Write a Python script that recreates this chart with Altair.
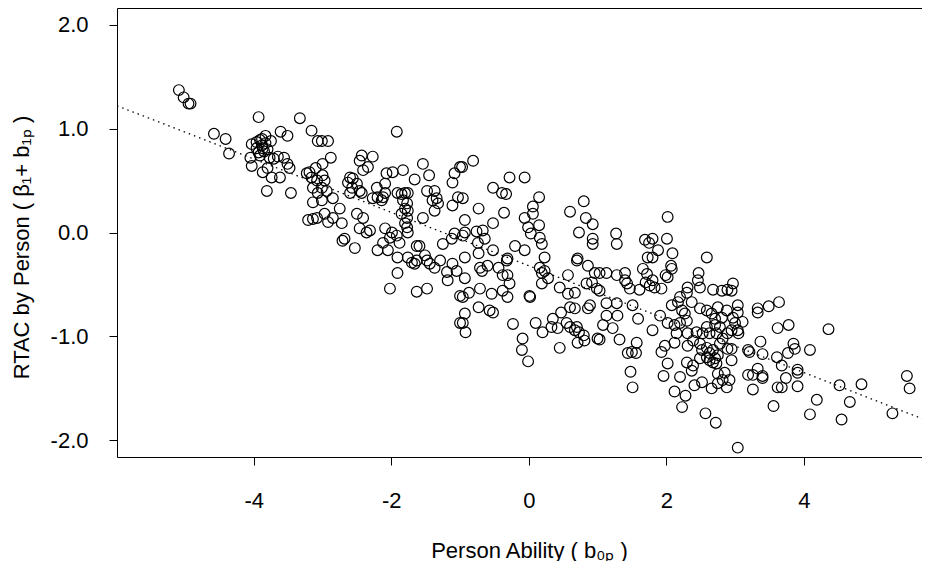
import altair as alt
import pandas as pd

# (person ability b0p, RTAC by person), grouped by x band
group_a = [(-5.09,1.37),(-5.02,1.30),(-4.95,1.24),(-4.92,1.24),(-4.58,0.95),(-4.41,0.90),(-4.36,0.76),
           (-3.93,1.11),(-3.61,0.97),(-3.51,0.93),(-4.03,0.85),(-3.96,0.87),(-3.91,0.89),(-3.83,0.93),
           (-3.83,0.86),(-3.88,0.84),(-3.96,0.81),(-3.87,0.81),(-3.91,0.74),(-4.03,0.64),(-3.77,0.72),
           (-3.71,0.71),(-3.65,0.73),(-3.56,0.72),(-3.51,0.66),(-3.48,0.62),(-3.80,0.62),(-3.87,0.58),
           (-3.74,0.53),(-3.62,0.53),(-3.81,0.40),(-3.46,0.38),(-3.88,0.90),(-3.85,0.78),(-3.93,0.77),
           (-3.80,0.80),(-3.75,0.88),(-4.05,0.72)]
group_b = [(-3.33,1.10),(-3.16,0.98),(-3.07,0.88),(-3.01,0.88),(-2.92,0.88),(-2.88,0.72),(-3.00,0.66),
           (-3.23,0.57),(-3.19,0.58),(-3.10,0.62),(-3.16,0.53),(-3.08,0.50),(-3.14,0.43),(-3.07,0.38),
           (-3.00,0.55),(-2.97,0.50),(-3.01,0.43),(-2.94,0.40),(-3.01,0.31),(-2.85,0.33),(-3.14,0.29),
           (-3.21,0.12),(-3.14,0.13),(-3.08,0.14),(-2.75,0.23),(-2.97,0.18),(-2.85,0.14),(-2.92,0.10),
           (-2.72,0.09),(-2.60,0.53),(-2.56,0.52),(-2.63,0.48),(-2.57,0.43),(-2.50,0.47),(-2.46,0.40),
           (-2.60,0.38),(-2.43,0.38),(-2.50,0.18),(-2.41,0.14),(-2.68,-0.06),(-2.71,-0.08),(-2.53,-0.15)]
group_c = [(-2.43,0.74),(-2.27,0.73),(-2.46,0.69),(-2.34,0.63),(-2.41,0.60),(-1.92,0.97),(-2.07,0.57),
           (-1.98,0.58),(-1.83,0.60),(-1.66,0.51),(-1.54,0.66),(-2.21,0.43),(-2.09,0.47),(-2.09,0.38),
           (-2.27,0.33),(-2.20,0.34),(-2.14,0.31),(-2.12,0.34),(-1.85,0.37),(-1.80,0.38),(-1.76,0.38),
           (-1.83,0.31),(-1.77,0.28),(-1.80,0.23),(-1.76,0.21),(-1.85,0.18),(-1.77,0.14),(-1.91,0.38),
           (-2.46,0.04),(-2.31,0.02),(-2.36,0.00),(-2.09,0.04),(-1.99,0.00),(-1.92,-0.03),(-2.02,-0.05),
           (-2.12,-0.10),(-2.20,-0.17),(-2.05,-0.17),(-1.88,-0.10),(-1.76,0.00),(-1.77,0.05),(-1.80,0.09),
           (-1.59,-0.13),(-1.63,-0.13),(-1.91,-0.24),(-1.76,-0.24),(-1.70,-0.29),(-1.66,-0.30),(-1.63,-0.27),
           (-1.91,-0.39),(-2.02,-0.54),(-1.63,-0.57),(-1.54,0.14)]
group_d = [(-1.45,0.55),(-1.08,0.57),(-1.11,0.48),(-1.00,0.63),(-0.81,0.69),(-0.97,0.63),(-1.48,0.40),
           (-1.37,0.40),(-1.34,0.33),(-1.40,0.31),(-1.32,0.28),(-1.37,0.21),(-1.11,0.26),(-1.03,0.34),
           (-1.51,-0.22),(-1.48,-0.27),(-1.44,-0.30),(-1.37,-0.34),(-1.29,-0.27),(-1.19,-0.38),(-1.18,-0.46),
           (-1.11,-0.30),(-1.05,-0.37),(-1.25,-0.11),(-1.12,-0.06),(-1.08,-0.01),(-1.48,-0.54),(-1.00,-0.61),
           (-1.00,-0.87),(-0.96,0.33),(-0.73,0.23),(-0.52,0.43),(-0.52,0.09),(-0.93,0.12),(-0.93,0.00),
           (-0.76,0.01),(-0.67,0.02),(-0.64,-0.06),(-0.74,-0.10),(-0.96,-0.03),(-0.52,-0.17),(-0.73,-0.20),
           (-0.93,-0.24),(-0.93,-0.44),(-0.71,-0.34),(-0.60,-0.32),(-0.68,-0.37),(-0.87,-0.58),(-0.96,-0.62),
           (-0.73,-0.72),(-0.57,-0.75),(-0.52,-0.77),(-0.93,-0.78),(-0.96,-0.87),(-0.92,-0.96),(-0.71,-0.54),
           (-0.54,-0.59)]
group_e = [(-0.28,0.53),(-0.06,0.53),(-0.39,0.38),(-0.33,0.37),(0.15,0.34),(0.06,0.25),(0.06,0.18),
           (-0.36,0.19),(-0.06,0.14),(-0.01,0.05),(0.15,0.07),(0.03,-0.01),(0.16,-0.05),(0.19,-0.11),
           (-0.20,-0.13),(-0.06,-0.17),(-0.31,-0.25),(0.23,-0.24),(-0.44,-0.34),(-0.32,-0.27),(-0.38,-0.41),
           (-0.31,-0.41),(-0.28,-0.49),(-0.38,-0.56),(-0.31,-0.62),(0.01,-0.61),(-0.23,-0.88),(-0.09,-1.02),
           (-0.10,-1.13),(-0.01,-1.24),(0.10,-0.87),(0.20,-0.96),(0.33,-0.91),(0.35,-0.83),(0.42,-0.92),
           (0.47,-0.77),(0.45,-1.11),(0.16,-0.34),(0.23,-0.37),(0.19,-0.39),(0.28,-0.44),(0.19,-0.49),
           (0.45,-0.53),(0.02,-0.62)]
group_f = [(0.60,0.20),(0.80,0.30),(0.83,0.14),(0.93,0.08),(0.73,0.00),(0.93,-0.06),(0.93,-0.11),
           (0.71,-0.25),(0.55,-0.87),(0.60,-0.91),(0.67,-0.94),(0.70,-0.91),(0.73,-0.96),(0.80,-0.99),
           (0.71,-1.06),(0.81,-1.04),(1.00,-1.02),(0.60,-0.72),(0.67,-0.73),(0.89,-0.70),(0.86,-0.73),
           (0.57,-0.41),(0.57,-0.59),(0.67,-0.58),(0.84,-0.49),(0.92,-0.48),(0.99,-0.54),(0.96,-0.39),
           (0.86,-0.32),(0.70,-0.27),(1.27,-0.01),(1.28,-0.11),(1.13,-0.39),(1.28,-0.41),(1.03,-0.39),
           (1.40,-0.39),(1.40,-0.46),(1.43,-0.49),(1.47,-0.54),(1.03,-0.56),(1.13,-0.68),(1.28,-0.68),
           (1.51,-0.70),(1.13,-0.80),(1.29,-0.80),(1.08,-0.89),(1.22,-0.92),(1.32,-1.03),(1.03,-1.03),
           (1.57,-1.06),(1.59,-0.83),(1.50,-1.15),(1.44,-1.16),(1.56,-1.16),(1.48,-1.34),(1.51,-1.49)]
group_g = [(2.02,0.15),(1.69,-0.07),(1.80,-0.06),(1.75,-0.10),(2.01,-0.06),(1.88,-0.17),(2.09,-0.20),
           (1.73,-0.24),(1.80,-0.24),(2.07,-0.32),(2.08,-0.35),(1.66,-0.35),(1.99,-0.41),(2.02,-0.43),
           (1.72,-0.40),(2.47,-0.39),(1.61,-0.55),(1.70,-0.48),(1.76,-0.51),(1.80,-0.46),(1.83,-0.53),
           (1.93,-0.54),(2.20,-0.62),(2.30,-0.58),(2.31,-0.53),(2.46,-0.46),(2.49,-0.53),(1.80,-0.94),
           (1.91,-0.80),(2.02,-0.87),(2.12,-0.89),(2.20,-0.87),(2.15,-0.97),(2.12,-1.06),(1.98,-1.09),
           (1.93,-1.15),(2.02,-1.26),(1.96,-1.38),(2.20,-1.39),(2.12,-1.53),(2.28,-1.57),(2.23,-1.68),
           (2.41,-1.47),(2.30,-1.25),(2.39,-1.28),(2.37,-1.33),(2.49,-1.21),(2.31,-0.97),(2.31,-1.09),
           (2.39,-1.04),(2.44,-0.96),(2.49,-1.07),(2.27,-0.78),(2.30,-0.85),(2.49,-0.73),(2.08,-0.70),
           (2.17,-0.67),(2.37,-0.67),(2.23,-0.75)]
group_h = [(2.59,-0.24),(2.68,-0.55),(2.81,-0.56),(2.89,-0.55),(2.57,-1.74),(2.72,-1.83),(2.52,-1.44),
           (2.66,-1.50),(2.75,-1.45),(2.82,-1.42),(2.88,-1.49),(2.59,-1.20),(2.71,-1.21),(2.75,-1.36),
           (2.85,-1.35),(2.73,-1.26),(2.52,-1.13),(2.59,-1.11),(2.63,-1.16),(2.68,-1.13),(2.75,-1.18),
           (2.63,-1.23),(2.68,-1.25),(2.59,-0.75),(2.66,-0.78),(2.71,-0.83),(2.71,-0.89),(2.59,-0.91),
           (2.53,-0.97),(2.63,-0.97),(2.73,-0.97),(2.78,-0.91),(2.78,-1.07),(2.82,-1.02),(2.89,-0.97),
           (2.89,-1.12),(2.88,-0.75),(2.75,-0.72),(2.81,-0.82),(2.97,-0.49),(2.95,-0.56),(3.04,-0.70),
           (3.04,-0.77),(2.97,-0.82),(3.11,-0.86),(3.00,-0.87),(2.95,-0.94),(3.04,-0.94),(3.05,-0.97),
           (2.95,-1.12),(2.95,-1.23),(3.19,-1.13),(3.21,-1.15),(3.33,-0.73),(3.33,-0.77),(3.49,-0.71),
           (3.37,-1.05),(3.40,-1.17),(3.33,-1.31),(3.19,-1.37),(3.26,-1.37),(3.40,-1.38),(3.40,-1.40),
           (3.26,-1.51),(3.04,-2.07),(2.92,-1.42)]
group_i = [(3.64,-0.67),(3.62,-0.92),(3.78,-0.89),(4.36,-0.93),(3.61,-1.20),(3.77,-1.16),(3.85,-1.07),
           (3.87,-1.12),(4.09,-1.13),(3.68,-1.28),(3.91,-1.32),(3.74,-1.40),(3.91,-1.35),(3.62,-1.49),
           (3.68,-1.49),(3.91,-1.48),(3.56,-1.67),(4.19,-1.61),(4.09,-1.75),(4.52,-1.47),(4.84,-1.46),
           (4.67,-1.63),(4.55,-1.80),(5.29,-1.74),(5.50,-1.38),(5.54,-1.50)]

groups = [group_a, group_b, group_c, group_d, group_e, group_f, group_g, group_h, group_i]

# fitted regression line
fit_intercept = -0.32
fit_slope = -0.257

x_domain = [-5.99, 5.72]
y_domain = [-2.16, 2.16]
x_ticks = [-4, -2, 0, 2, 4]
y_ticks = [-2, -1, 0, 1, 2]

df = pd.DataFrame([{"ability": x, "rtac": y} for g in groups for x, y in g])
line_df = pd.DataFrame({"ability": x_domain,
                        "rtac": [fit_intercept + fit_slope * v for v in x_domain]})

FONT = "Liberation Sans"
FS = 22
xscale = alt.Scale(domain=x_domain, nice=False, zero=False)
yscale = alt.Scale(domain=y_domain, nice=False, zero=False)

x_axis = alt.Axis(values=x_ticks, title="Person Ability ( b₀ₚ )",
                  labelExpr="datum.value < 0 ? '-' + format(-datum.value, 'd') : format(datum.value, 'd')",
                  labelPadding=25, titleAlign="center", titleX=412, titleY=100,
                  titleBaseline="alphabetic", labelFlush=False, labelOverlap=False)
y_axis = alt.Axis(values=y_ticks, title="RTAC by Person ( β₁+ b₁ₚ )",
                  labelExpr="datum.value < 0 ? '-' + format(-datum.value, '.1f') : format(datum.value, '.1f')",
                  labelPadding=21, titleAngle=270, titleAlign="center", titleX=-89, titleY=239,
                  titleBaseline="alphabetic", labelFlush=False, labelOverlap=False)
top_axis = alt.Axis(orient="top", labels=False, ticks=False, title=None, grid=False, domain=True)

points = alt.Chart(df).mark_point(shape="circle", filled=False, color="black", size=115,
                                  strokeWidth=1.2, opacity=1).encode(
    x=alt.X("ability:Q", scale=xscale, axis=x_axis),
    y=alt.Y("rtac:Q", scale=yscale, axis=y_axis),
)

line = alt.Chart(line_df).mark_line(color="black", strokeDash=[1.5, 4], strokeWidth=1.3,
                                    clip=True).encode(
    x=alt.X("ability:Q", scale=xscale, axis=top_axis),
    y=alt.Y("rtac:Q", scale=yscale),
)

chart = (line + points).resolve_axis(x="independent").properties(
    width=805, height=449,
    autosize=alt.AutoSizeParams(type="none"),
    padding={"left": 109, "top": 0, "right": 0, "bottom": 104},
    background="white",
).configure_axis(
    grid=False, domainColor="black", tickColor="black", tickSize=8, tickWidth=1,
    domainWidth=1, labelFont=FONT, labelFontSize=FS, labelColor="black",
    titleFont=FONT, titleFontSize=FS, titleFontWeight="normal", titleColor="black",
).configure_view(stroke=None)

chart.save("out.html", embed_options={"renderer": "svg", "actions": False})
